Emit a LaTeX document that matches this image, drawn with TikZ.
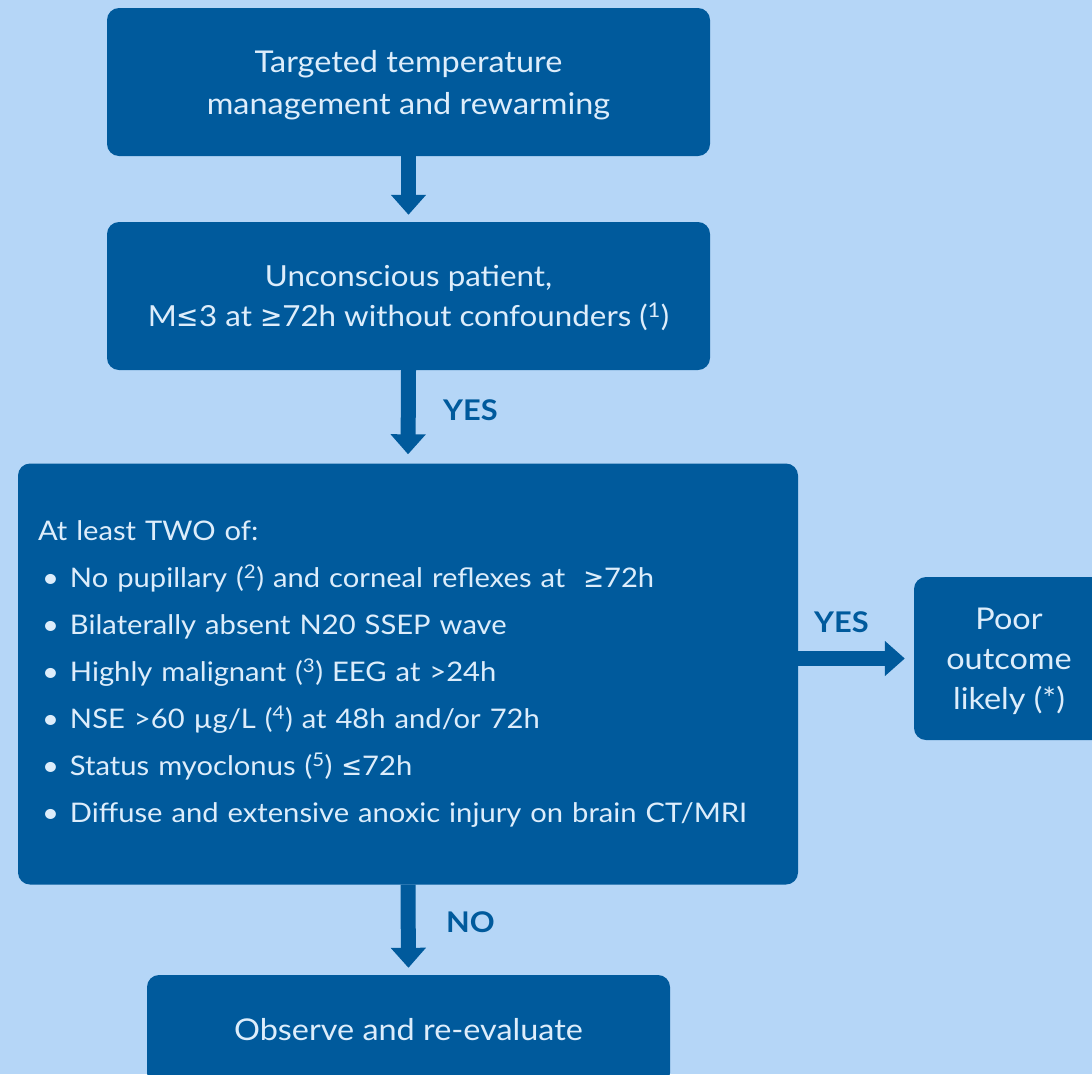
\documentclass[tikz,border=0pt]{standalone}
\usepackage{fontspec}
\setmainfont[FakeStretch=1.08]{Lato}
\newfontfamily\symf[FakeStretch=0.92]{DejaVu Sans}
\usetikzlibrary{arrows.meta}
\definecolor{bgc}{HTML}{B5D6F7}
\definecolor{boxc}{HTML}{005A9C}
\definecolor{txtc}{HTML}{DDEDFB}
\newcommand{\myle}{{\symf ≤}}
\newcommand{\myge}{{\symf ≥}}
\newcommand{\fn}[1]{(\textsuperscript{#1})}
\newcommand{\bul}{\makebox[32pt][l]{\hspace{4pt}•}}
\tikzset{
  x=1pt, y=-1pt,
  box/.style={fill=boxc, rounded corners=12pt, text=txtc, align=center, inner sep=0pt,
    font=\fontsize{30}{42}\selectfont},
  flow/.style={draw=boxc, line width=15pt, -{Triangle[width=34pt,length=20pt]}},
  lab/.style={text=boxc, anchor=west, inner sep=0pt, font=\fontsize{28.5}{32}\selectfont\bfseries}
}
\begin{document}
\begin{tikzpicture}
\useasboundingbox (0,0) rectangle (1092,1074);
\clip (0,0) rectangle (1092,1074);
\fill[bgc] (0,0) rectangle (1092,1074);

\node[box, minimum width=603pt, minimum height=148pt, text depth=0pt] (b1) at (408.5,82)
  {Targeted temperature\\management and rewarming};
\node[box, minimum width=603pt, minimum height=148pt, text depth=-14pt,
  font=\fontsize{29}{40}\selectfont] (b2) at (408.5,296)
  {Unconscious patient,\\M\myle3 at \myge72h without confounders \fn{1}};
\node[box, minimum width=780pt, minimum height=421pt, text width=740pt, align=left,
  font=\fontsize{27}{47}\selectfont] (b3) at (408,674)
  {At least TWO of:\\
   \bul No pupillary \fn{2} and corneal reflexes at\ \ \myge72h\\
   \bul Bilaterally absent N20 SSEP wave\\
   \bul Highly malignant \fn{3} EEG at >24h\\
   \bul NSE >60 µg/L \fn{4} at 48h and/or 72h\\
   \bul Status myoclonus \fn{5} \myle72h\\
   \bul Diffuse and extensive anoxic injury on brain CT/MRI};
\node[box, minimum width=190pt, minimum height=163pt, text depth=-8pt,
  font=\fontsize{30}{40}\selectfont] (b4) at (1009,658.5)
  {Poor\\outcome\\likely (*)};
\node[box, minimum width=523pt, minimum height=110pt] (b5) at (408.5,1030)
  {Observe and re-evaluate};

\draw[flow, shorten >=7pt] (b1.south) -- (b2.north);
\draw[flow, shorten >=9pt] (b2.south) -- (b3.north);
\draw[flow, shorten >=7pt] (b3.south) -- (b5.north);
\draw[flow, shorten >=9pt] (b3.east |- b4.west) -- (b4.west);

\node[lab] (l1) at (443,410) {YES};
\node[lab] (l2) at (814,622) {YES};
\node[lab] (l3) at (446,922) {NO};
\end{tikzpicture}
\end{document}
